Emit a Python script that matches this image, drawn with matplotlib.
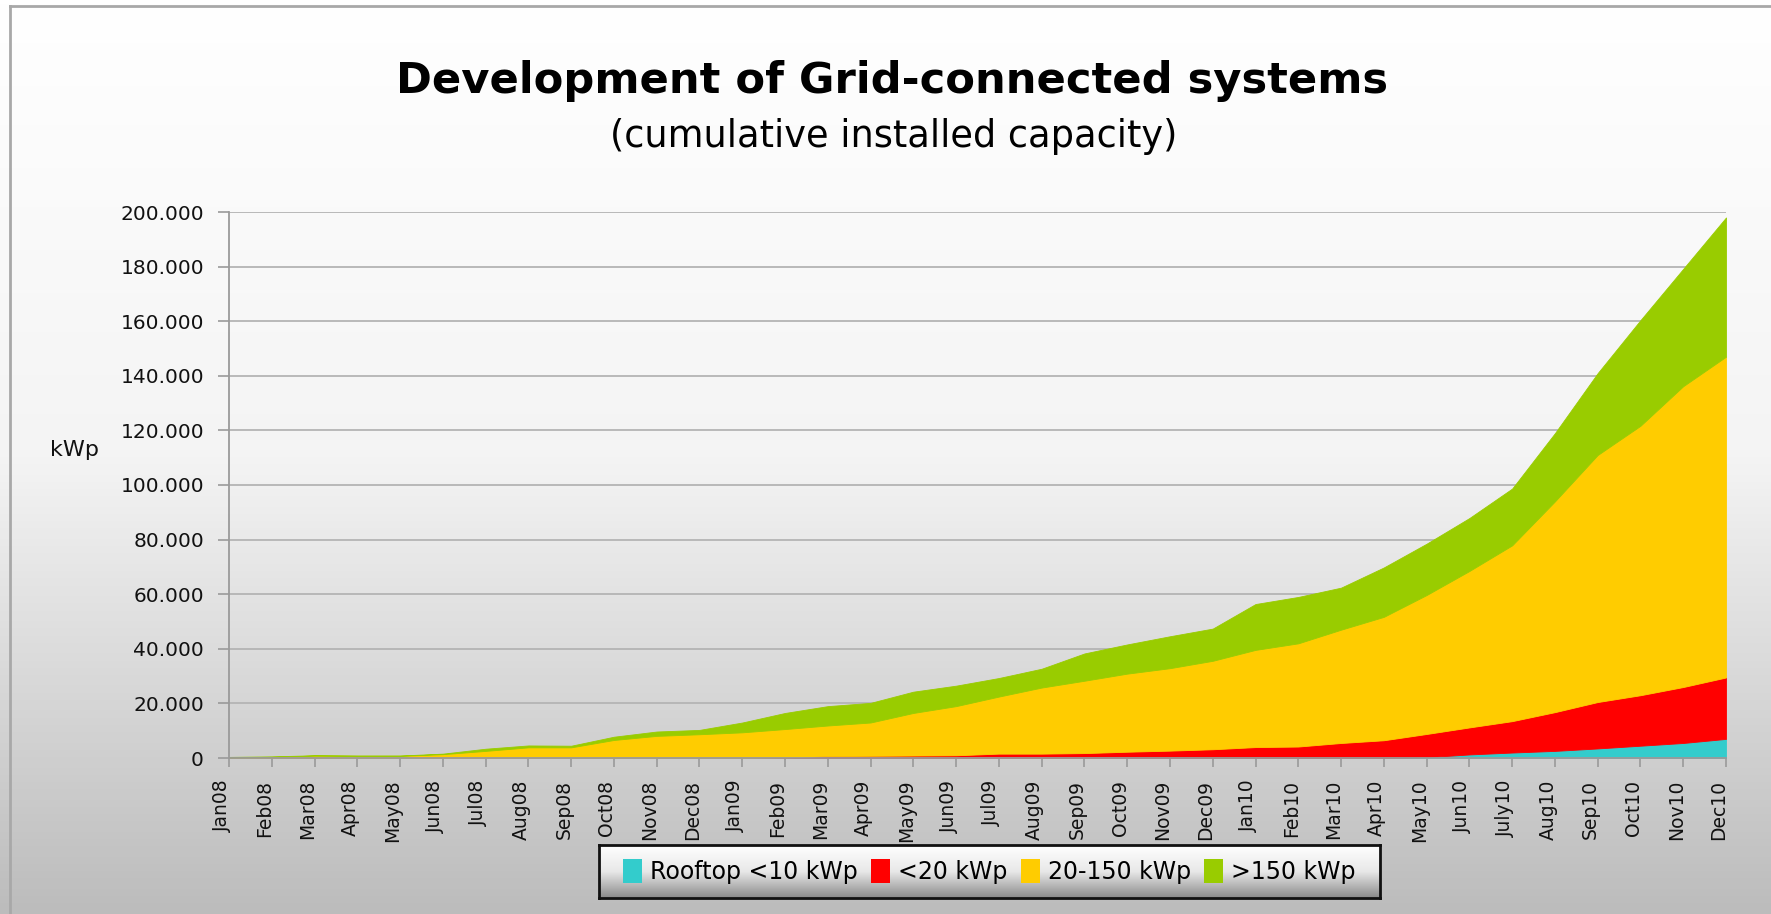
import matplotlib
matplotlib.use("Agg")
import matplotlib.pyplot as plt
import matplotlib.transforms as mtransforms
import numpy as np
from matplotlib.colors import LinearSegmentedColormap
from matplotlib.lines import Line2D
from matplotlib.patches import Patch

# monthly cumulative capacity per class (kWp)
months = [
    "Jan08", "Feb08", "Mar08", "Apr08", "May08", "Jun08", "Jul08", "Aug08", "Sep08", "Oct08", "Nov08", "Dec08",
    "Jan09", "Feb09", "Mar09", "Apr09", "May09", "Jun09", "Jul09", "Aug09", "Sep09", "Oct09", "Nov09", "Dec09",
    "Jan10", "Feb10", "Mar10", "Apr10", "May10", "Jun10", "July10", "Aug10", "Sep10", "Oct10", "Nov10", "Dec10",
]
rooftop = [0] * 28 + [300, 1300, 2000, 2600, 3500, 4500, 5500, 7000]
small = [0] * 13 + [200, 700, 800, 900, 1000, 1600, 1600, 1800, 2300, 2700, 3200, 4000,
                    4200, 5500, 6500, 8500, 9900, 11500, 14200, 17000, 18500, 20500, 22500]
medium = [200, 400, 900, 800, 800, 1400, 2600, 3900, 3900, 6600, 8100, 8700,
          9400, 10400, 11200, 12200, 15600, 18000, 20900, 24200, 26500, 28600, 30200, 32400,
          35600, 37800, 41500, 45200, 50900, 57300, 64400, 77200, 90500, 98700, 110200, 117500]
large = [200, 200, 100, 100, 100, 200, 800, 700, 600, 1200, 1600, 1600,
         3600, 5900, 7100, 7200, 7800, 7500, 6800, 6900, 10000, 10700, 11700, 11800,
         16800, 17000, 15400, 18100, 18800, 19400, 20800, 25000, 30000, 38700, 43000, 51000]
series_names = ["Rooftop <10 kWp", "<20 kWp", "20-150 kWp", ">150 kWp"]
colors = ["#33CCCC", "#FF0000", "#FFCC00", "#99CC00"]

W, H = 1771, 914
fig = plt.figure(figsize=(W / 100, H / 100), dpi=100)

# background gradient + frame
bg = fig.add_axes([0, 0, 1, 1], zorder=-10)
grad = np.linspace(0, 1, 256).reshape(-1, 1)
bg.imshow(grad, aspect="auto", extent=[0, 1, 0, 1], origin="upper",
          cmap=LinearSegmentedColormap.from_list("bg", ["#ffffff", "#f4f4f4", "#bcbcbc"]))
bg.set_xlim(0, 1)
bg.set_ylim(0, 1)
bg.axis("off")
bg.add_line(Line2D([10 / W, 1], [1 - 6 / H] * 2, color="#a8a8a8", lw=2))
bg.add_line(Line2D([10 / W] * 2, [0, 1 - 6 / H], color="#a8a8a8", lw=2))

ax = fig.add_axes([229 / W, 1 - 758 / H, (1726 - 229) / W, (758 - 212) / H])
ax.patch.set_alpha(0)
x = np.arange(len(months))
ax.stackplot(x, rooftop, small, medium, large, colors=colors, linewidth=0.6,
             edgecolor="face", labels=series_names)

ax.set_xlim(0, len(months) - 1)
ax.set_ylim(0, 200000)
ax.set_yticks(np.arange(0, 200001, 20000))
ax.yaxis.set_major_formatter(lambda v, p: f"{int(v):,}".replace(",", "."))
ax.yaxis.grid(True, color="#b4b4b4", lw=1.3)
ax.set_axisbelow(True)
for s in ["top", "right"]:
    ax.spines[s].set_visible(False)
for s in ["left", "bottom"]:
    ax.spines[s].set_color("#9a9a9a")
    ax.spines[s].set_linewidth(1.3)

ax.set_xticks(x)
ax.set_xticklabels(months, rotation=90, fontsize=13.5, color="#111111")
ax.tick_params(axis="x", length=6.5, width=1.2, color="#9a9a9a", pad=9)
ax.tick_params(axis="y", length=8, width=1.2, color="#9a9a9a", pad=10, labelsize=14.5, labelcolor="#111111")
shift = mtransforms.ScaledTranslation(-7 / 100, 0, fig.dpi_scale_trans)
for lbl in ax.get_xticklabels():
    lbl.set_transform(lbl.get_transform() + shift)

fig.text(75 / W, 1 - 450 / H, "kWp", ha="center", va="center", fontsize=16, color="#111111")

renderer = fig.canvas.get_renderer()


def fit_width(t, px):
    w = t.get_window_extent(renderer).width
    t.set_fontsize(t.get_fontsize() * px / w)


title = fig.text(892 / W, 1 - 93 / H, "Development of Grid-connected systems", ha="center",
                 va="baseline", fontsize=30, fontweight="bold", color="#000000")
fit_width(title, 990)
sub = fig.text(894 / W, 1 - 147 / H, "(cumulative installed capacity)", ha="center",
               va="baseline", fontsize=20, color="#000000")
fit_width(sub, 568)

# legend box with gradient
lax = fig.add_axes([599 / W, 1 - 898 / H, 781 / W, 53 / H])
lax.imshow(grad, aspect="auto", extent=[0, 1, 0, 1], origin="upper",
           cmap=LinearSegmentedColormap.from_list("lg", ["#ffffff", "#e8e8e8", "#8a8a8a"]))
lax.set_xlim(0, 1)
lax.set_ylim(0, 1)
lax.set_xticks([])
lax.set_yticks([])
for s in lax.spines.values():
    s.set_color("#111111")
    s.set_linewidth(2)
handles = [Patch(facecolor=c, edgecolor="none") for c in colors]
lax.legend(handles, series_names, loc="center", ncol=4, frameon=False, fontsize=17,
           handlelength=0.8, handleheight=1.2, handletextpad=0.35, columnspacing=0.55,
           borderpad=0, borderaxespad=0)

fig.savefig("out.png", dpi=100)
